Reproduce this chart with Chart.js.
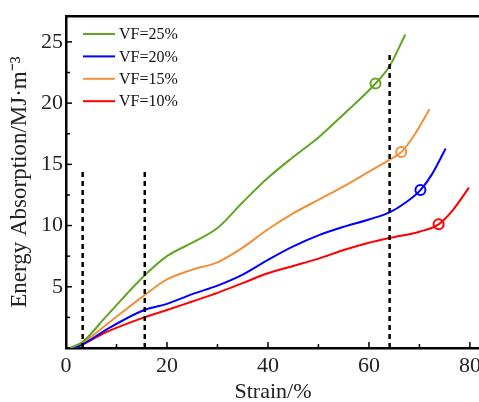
<html>
    <head>
        <script src="https://cdn.jsdelivr.net/npm/chart.js@4.4.0/dist/chart.umd.min.js"></script>
        <style>
            html, body {
                margin: 0px;
                padding: 0px;
                overflow: hidden;
                background: #ffffff;
            }

            /* a little wider than the window: the last x label's padding falls outside */
            #wrap {
                position: relative;
                width: 487px;
                height: 402px;
            }

            #chart {
                display: block;
            }
        </style>
    </head>

    <body>
        <div id="wrap">
            <canvas id="chart"></canvas>
        </div>
        <script>
            // Series labels and colours
            const seriesLabels = ['VF=25%', 'VF=20%', 'VF=15%', 'VF=10%']
            const seriesColors = ['#62a524', '#0000ff', '#f0913a', '#ff0000']

            // Strain (%) and energy absorption (MJ/m^3)
            const strain25 = [0.8, 3.3, 8, 15.5, 20, 25, 30, 35, 40, 45, 50, 55, 61.3, 64.2, 67.2]
            const energy25 = [0, 0.5, 2.6, 5.9, 7.5, 8.6, 9.8, 11.9, 13.9, 15.6, 17.2, 19.1, 21.6, 23.1, 25.6]

            const strain20 = [1.5, 3.3, 8, 15.5, 20, 25, 30, 35, 40, 45, 50, 55, 60, 64.2, 67, 70.2, 72.5, 75.2]
            const energy20 = [0, 0.3, 1.5, 3.1, 3.6, 4.4, 5.1, 6.0, 7.2, 8.3, 9.2, 9.9, 10.5, 11.1, 11.8, 12.9, 14.2, 16.3]

            const strain15 = [1.5, 3.3, 8, 15.5, 20, 25, 30, 35, 40, 45, 50, 55, 60, 64.2, 66.4, 69, 72]
            const energy15 = [0, 0.4, 1.9, 4.3, 5.6, 6.4, 7.0, 8.2, 9.7, 11.0, 12.1, 13.2, 14.4, 15.4, 16.0, 17.4, 19.5]

            const strain10 = [1.5, 3.3, 8, 15.5, 20, 25, 30, 35, 40, 45, 50, 55, 60, 64.2, 70, 73.8, 76.5, 79.8]
            const energy10 = [0, 0.3, 1.3, 2.5, 3.1, 3.8, 4.5, 5.3, 6.1, 6.7, 7.3, 8.0, 8.6, 9.0, 9.5, 10.1, 11.2, 13.1]

            // Open circle markers on each curve
            const markerStrain = [61.3, 70.2, 66.4, 73.8]
            const markerEnergy = [21.6, 12.9, 16.0, 10.1]

            // Dashed vertical guide lines: strain position and top value
            const guideStrain = [3.3, 15.6, 64.1]
            const guideTop = [14.4, 14.4, 24.0]

            // Axes
            const xMin = 0, xMax = 82, yMin = 0, yMax = 27.1
            const xMajor = [0, 20, 40, 60, 80]
            const xMinor = [10, 30, 50, 70]
            const yMajor = [5, 10, 15, 20, 25]
            const yMinor = [2.5, 7.5, 12.5, 17.5, 22.5]

            const strains = [strain25, strain20, strain15, strain10]
            const energies = [energy25, energy20, energy15, energy10]
            const toPoints = (xs, ys) => xs.map((x, i) => ({ x: x, y: ys[i] }))

            const curveSets = seriesLabels.map((label, i) => ({
                label: label,
                data: toPoints(strains[i], energies[i]),
                borderColor: seriesColors[i],
                borderWidth: 2,
                pointRadius: 0,
                fill: false,
                cubicInterpolationMode: 'monotone',
            }))

            const markerSets = seriesLabels.map((label, i) => ({
                label: label + ' marker',
                data: [{ x: markerStrain[i], y: markerEnergy[i] }],
                showLine: false,
                pointRadius: 5,
                pointBorderWidth: 2,
                pointBorderColor: seriesColors[i],
                pointBackgroundColor: 'rgba(0,0,0,0)',
                borderColor: seriesColors[i],
            }))

            const guideSets = guideStrain.map((x, i) => ({
                label: 'guide ' + i,
                data: [{ x: x, y: 0 }, { x: x, y: guideTop[i] }],
                borderColor: '#000000',
                borderWidth: 2.5,
                borderDash: [5, 4],
                pointRadius: 0,
                fill: false,
            }))

            const serif = '"Liberation Serif", "Times New Roman", serif'

            // Inward ticks, top frame line and the legend
            const decor = {
                id: 'decor',
                afterDatasetsDraw(chart) {
                    const { ctx, chartArea, scales } = chart
                    const xs = scales.x, ys = scales.y
                    ctx.save()
                    ctx.strokeStyle = '#000000'
                    ctx.lineWidth = 1.5
                    const tick = (x1, y1, x2, y2) => {
                        ctx.beginPath()
                        ctx.moveTo(x1, y1)
                        ctx.lineTo(x2, y2)
                        ctx.stroke()
                    }
                    xMajor.forEach((v) => {
                        const p = xs.getPixelForValue(v)
                        tick(p, chartArea.bottom, p, chartArea.bottom - 6)
                    })
                    xMinor.forEach((v) => {
                        const p = xs.getPixelForValue(v)
                        tick(p, chartArea.bottom, p, chartArea.bottom - 4)
                    })
                    yMajor.forEach((v) => {
                        const p = ys.getPixelForValue(v)
                        tick(chartArea.left, p, chartArea.left + 6, p)
                    })
                    yMinor.forEach((v) => {
                        const p = ys.getPixelForValue(v)
                        tick(chartArea.left, p, chartArea.left + 4, p)
                    })

                    // top frame
                    ctx.lineWidth = 2.5
                    tick(chartArea.left - 1, chartArea.top, chart.width, chartArea.top)

                    // legend
                    ctx.font = '16px ' + serif
                    ctx.textBaseline = 'middle'
                    ctx.textAlign = 'left'
                    seriesLabels.forEach((label, i) => {
                        const y = 34 + i * 22.4
                        ctx.strokeStyle = seriesColors[i]
                        ctx.lineWidth = 2
                        tick(83, y, 115, y)
                        ctx.fillStyle = '#111111'
                        ctx.fillText(label, 119, y + 1)
                    })
                    ctx.restore()
                },
            }

            new Chart(document.getElementById('chart'), {
                type: 'line',
                data: {
                    datasets: [...guideSets, ...curveSets, ...markerSets],
                },
                plugins: [decor],
                options: {
                    responsive: true,
                    maintainAspectRatio: false,
                    animation: false,
                    layout: {
                        padding: { top: 13, right: 0, left: 0, bottom: 0 },
                    },
                    plugins: {
                        legend: { display: false },
                        tooltip: { enabled: false },
                    },
                    scales: {
                        x: {
                            type: 'linear',
                            min: xMin,
                            max: xMax,
                            grid: { display: false, drawTicks: false },
                            border: { display: true, color: '#000000', width: 2.5 },
                            afterFit: (scale) => {
                                scale.height = 54
                            },
                            ticks: {
                                stepSize: 20,
                                includeBounds: false,
                                padding: 5,
                                color: '#222222',
                                font: { family: serif, size: 22 },
                                maxRotation: 0,
                            },
                            title: {
                                display: true,
                                text: 'Strain/%',
                                color: '#222222',
                                font: { family: serif, size: 22, lineHeight: 0.85 },
                                padding: { top: 0, bottom: 0 },
                            },
                        },
                        y: {
                            type: 'linear',
                            min: yMin,
                            max: yMax,
                            grid: { display: false, drawTicks: false },
                            border: { display: true, color: '#000000', width: 2.5 },
                            afterFit: (scale) => {
                                scale.width = 66
                            },
                            ticks: {
                                stepSize: 5,
                                includeBounds: false,
                                padding: 3,
                                color: '#222222',
                                font: { family: serif, size: 22 },
                                callback: (v) => (v === 0 ? '' : v),
                            },
                            title: {
                                display: true,
                                text: 'Energy Absorption/MJ·m⁻³',
                                color: '#222222',
                                font: { family: serif, size: 23 },
                                padding: { top: 6, bottom: 0 },
                            },
                        },
                    },
                },
            })
        </script>
    </body>
</html>
